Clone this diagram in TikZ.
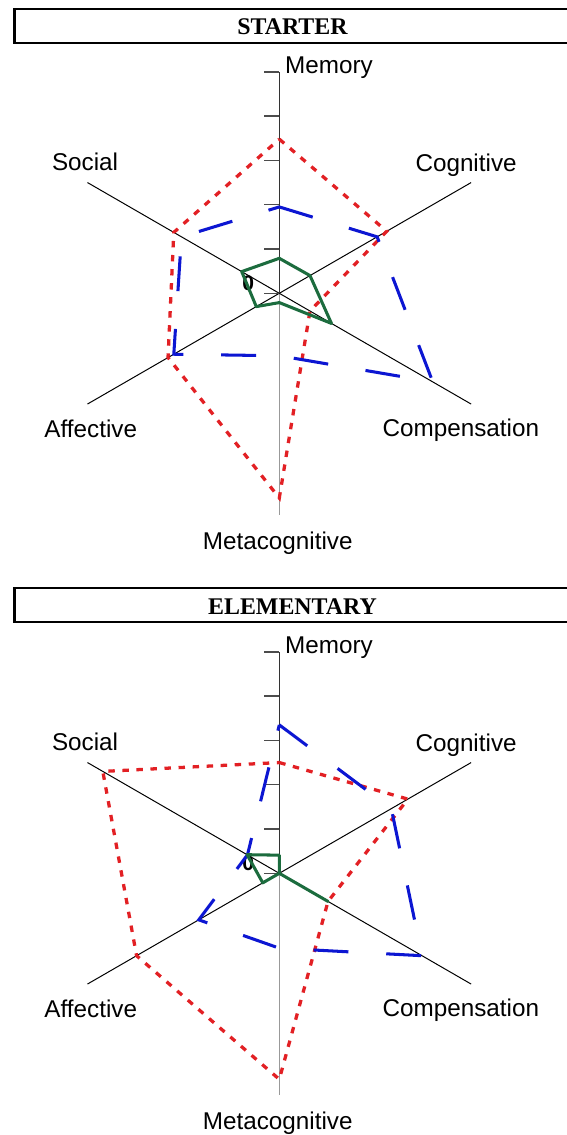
\documentclass[tikz,border=0pt]{standalone}
\usepackage{fontspec}
\setmainfont{Liberation Serif}
\setsansfont{Liberation Sans}
\usetikzlibrary{calc}
\definecolor{dotred}{RGB}{226,32,36}
\definecolor{dashblue}{RGB}{12,22,210}
\definecolor{solidgreen}{RGB}{28,108,62}
\tikzset{
	titlebox/.style={line width=1.8pt},
	titletext/.style={inner sep=0, font=\fontsize{20.4}{24}\selectfont\bfseries},
	axisline/.style={line width=0.85pt, black},
	tickline/.style={line width=1.3pt, black!70},
	axislabel/.style={inner sep=0, font=\sffamily\fontsize{20.7}{24}\selectfont},
	zerolabel/.style={inner sep=0, font=\sffamily\bfseries\fontsize{18}{20}\selectfont},
	dotline/.style={dotred, line width=2.8pt, dash pattern=on 5.5pt off 6.5pt},
	dashline/.style={dashblue, line width=2.6pt, dash pattern=on 29.8pt off 32.3pt},
	greenline/.style={solidgreen, line width=2.6pt, line join=round}
}
\def\tk{44.3}
\def\radarline[#1](#2:#3:#4:#5:#6:#7){\draw[#1] (90:#2*\tk) -- (30:#3*\tk) -- (-30:#4*\tk) -- (-90:#5*\tk) -- (-150:#6*\tk) -- (150:#7*\tk) -- cycle;}
\def\radargrid#1{
	\draw[axisline, draw=black!40, line width=1.1pt] (0,0) -- (-90:5*\tk);
	\foreach \a in {30,-30,-150,150} \draw[axisline] (0,0) -- (\a:5*\tk);
	\draw[axisline, draw=black!80, line width=1.3pt] (0,0) -- (90:5*\tk);
	\foreach \t in {0,...,5} \draw[tickline] (0,\t*\tk) -- (-15,\t*\tk);
	\node[zerolabel, anchor=base] (#1zero) at (-31,3) {0};
	\node[axislabel, anchor=base west] (#1mem) at (5.7,220) {Memory};
	\node[axislabel, anchor=base west] (#1cog) at (136,121.6) {Cognitive};
	\node[axislabel, anchor=base west] (#1comp) at (103.1,-143.4) {Compensation};
	\node[axislabel, anchor=base] (#1meta) at (-1.6,-256) {Metacognitive};
	\node[axislabel, anchor=base west] (#1aff) at (-235.1,-144) {Affective};
	\node[axislabel, anchor=base west] (#1soc) at (-227.5,123.3) {Social};
}

\begin{document}
\begin{tikzpicture}[x=0.03cm, y=0.03cm]
	%%%%% START %%%%%
	\useasboundingbox (0,0) rectangle (567,-1135);
	\clip (0,0) rectangle (567,-1135);
	
	% starter
	\draw[titlebox] (14.5,-8.7) rectangle (590,-42.7);
	\node[titletext, anchor=base] (starter) at (292.5,-34.3) {STARTER};
	
	\begin{scope}[shift={(279.3,-293.3)}]
		\radargrid{s}
		\radarline[dotline](3.48:2.8:0.8:4.62:2.9:2.75)
		\radarline[dashline](1.95:2.55:4.0:1.41:2.75:2.55)
		\radarline[greenline](0.79:0.8:1.36:0.21:0.6:0.98)
	\end{scope}
	
	% elementary
	\draw[titlebox] (14.5,-588.3) rectangle (590,-622);
	\node[titletext, anchor=base] (elementary) at (292.5,-614.3) {ELEMENTARY};
	
	\begin{scope}[shift={(279.3,-873.3)}]
		\radargrid{e}
		\radarline[dotline](2.5:3.35:1.27:4.65:3.72:4.6)
		\radarline[dashline](3.35:2.92:3.72:1.69:2.1:0.83)
		\radarline[greenline](0.41:0:1.27:0:0.43:0.84)
	\end{scope}
	
	%%%%% END %%%%%
\end{tikzpicture}
\end{document}
